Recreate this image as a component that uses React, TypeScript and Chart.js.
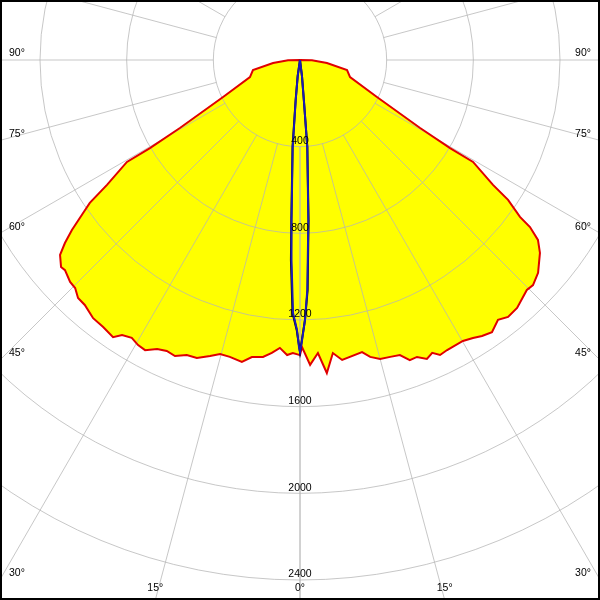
import { useEffect, useRef } from 'react';
import { Chart, registerables } from 'chart.js';

Chart.register(...registerables);

// ---- grid / tick definitions ----
const ringValues = [400, 800, 1200, 1600, 2000, 2400];
const ringLabelValues = [400, 800, 1200, 1600, 2000, 2400];
const angleTicks = [0, 15, 30, 45, 60, 75, 90, 105, 120, 135, 150, 165, 180];
const angleLabelTicks = [0, 15, 30, 45, 60, 75, 90];

// ---- C180 plane (left half of red curve), gamma in degrees, intensity in cd ----
const c180Gamma = [0, 1.4, 2.5, 4.0, 5.5, 7.1, 9.2, 10.9, 13.3, 15.2, 16.9, 19.1, 21.0, 22.9, 24.6, 26.3, 28.1, 29.6, 31.2, 32.9, 34.0, 36.4, 38.7, 41.3, 43.0, 44.6, 46.0, 48.2, 49.1, 50.9, 52.1, 53.3, 54.8, 55.8, 57.1, 59.5, 59.6, 60.5, 64.3, 71.2, 78.0, 83.7, 88.6, 90];
const c180Values = [1362, 1353, 1363, 1332, 1358, 1381, 1389, 1419, 1408, 1406, 1428, 1455, 1458, 1483, 1477, 1488, 1518, 1513, 1499, 1512, 1543, 1531, 1527, 1505, 1502, 1478, 1475, 1455, 1459, 1427, 1375, 1313, 1225, 1173, 1061, 927, 803, 637, 394, 244, 222, 125, 55, 0];

// ---- C0 plane (right half of red curve) ----
const c0Gamma = [0, 0.4, 1.9, 3.5, 4.9, 6.4, 8.0, 12.0, 13.3, 15.0, 16.9, 18.7, 20.1, 21.5, 23.0, 24.3, 25.4, 26.9, 30.1, 31.9, 33.4, 35.2, 37.3, 39.0, 41.2, 44.6, 46.0, 48.2, 51.2, 52.9, 54.0, 54.5, 56.1, 57.1, 59.5, 59.6, 60.5, 64.3, 71.2, 78.0, 83.7, 88.6, 90];
const c0Values = [1362, 1325, 1408, 1355, 1450, 1361, 1398, 1378, 1408, 1429, 1432, 1438, 1475, 1473, 1499, 1483, 1507, 1501, 1499, 1511, 1526, 1537, 1508, 1526, 1521, 1491, 1495, 1474, 1421, 1377, 1312, 1247, 1157, 1061, 927, 803, 637, 394, 244, 222, 125, 55, 0];

// ---- C270 / C90 plane (blue curve) ----
const c270Gamma = [0, 0.2, 0.64, 1.58, 2.43, 3.04, 4.8, 6.1, 8.2, 90];
const c270Values = [1348, 1325, 1246, 1168, 924, 739, 403, 186, 75, 0];
const c90Gamma = [0, 0.34, 1.1, 1.82, 2.97, 4.8, 5.5, 7.0, 90];
const c90Values = [1348, 1306, 1200, 1062, 742, 403, 186, 75, 0];

// ---- second narrow plane (black curve, mostly hidden under blue) ----
const blackLeftGamma = [0, 0.7, 1.7, 2.6, 3.1, 4.9, 6.2, 8.2, 90];
const blackLeftValues = [1348, 1246, 1168, 924, 739, 403, 186, 75, 0];
const blackRightGamma = [0, 1.1, 1.9, 3.05, 4.8, 5.5, 7.0, 90];
const blackRightValues = [1348, 1200, 1062, 742, 403, 186, 75, 0];

// ---- layout ----
const SIZE = 600;
const PX_PER_CD = 260 / 1200;
const ORIGIN_X = 300;
const ORIGIN_Y = 60;
const GRID_COLOR = 'rgba(180,180,180,0.75)';
const FONT = '10.5px "Liberation Sans", Arial, sans-serif';

function polarPoints(gammas: number[], values: number[], side: number) {
  return gammas.map((g, i) => {
    const a = (g * Math.PI) / 180;
    return { x: side * values[i] * Math.sin(a), y: -values[i] * Math.cos(a) };
  });
}

function planePath(lg: number[], lv: number[], rg: number[], rv: number[]) {
  const left = polarPoints(lg, lv, -1).reverse();
  const right = polarPoints(rg, rv, 1).slice(1);
  return [...left, ...right];
}

const FILL_INDEX = 2;

const polarGrid = {
  id: 'polarGrid',
  beforeDatasetDraw(chart: any, args: any) {
    if (args.index !== FILL_INDEX) return;
    const { ctx } = chart;
    const xs = chart.scales.x;
    const ys = chart.scales.y;
    const cx = xs.getPixelForValue(0);
    const cy = ys.getPixelForValue(0);
    const rad = (v: number) => xs.getPixelForValue(v) - cx;
    ctx.save();
    ctx.strokeStyle = GRID_COLOR;
    ctx.lineWidth = 1;
    for (const v of ringValues) {
      ctx.beginPath();
      ctx.arc(cx, cy, rad(v), 0, Math.PI * 2);
      ctx.stroke();
    }
    const r0 = rad(ringValues[0]);
    const r1 = rad(5000);
    for (const g of angleTicks) {
      for (const s of [-1, 1]) {
        const a = (g * Math.PI) / 180;
        ctx.beginPath();
        ctx.moveTo(cx + s * r0 * Math.sin(a), cy + r0 * Math.cos(a));
        ctx.lineTo(cx + s * r1 * Math.sin(a), cy + r1 * Math.cos(a));
        ctx.stroke();
      }
    }
    ctx.restore();
  },
  afterDatasetsDraw(chart: any) {
    const { ctx } = chart;
    const xs = chart.scales.x;
    const ys = chart.scales.y;
    const cx = xs.getPixelForValue(0);
    const cy = ys.getPixelForValue(0);
    const rad = (v: number) => xs.getPixelForValue(v) - cx;
    const W = chart.width;
    const H = chart.height;
    ctx.save();
    ctx.fillStyle = '#000';
    ctx.font = FONT;
    ctx.textBaseline = 'middle';
    // ring labels
    ctx.textAlign = 'center';
    for (const v of ringLabelValues) {
      ctx.fillText(String(v), cx, cy + rad(v) - 5.5);
    }
    // angle labels
    for (const g of angleLabelTicks) {
      const a = (g * Math.PI) / 180;
      const sides = g === 0 ? [1] : [-1, 1];
      for (const s of sides) {
        const sinA = Math.sin(a);
        const cosA = Math.cos(a);
        const tSide = sinA > 1e-6 ? (s < 0 ? cx : W - cx) / sinA : Infinity;
        const ySide = cy + tSide * cosA;
        if (ySide < H - 12) {
          ctx.textAlign = s < 0 ? 'left' : 'right';
          ctx.fillText(`${g}°`, s < 0 ? 9 : W - 9, ySide - 6.5);
        } else {
          const t = (H - cy) / cosA;
          ctx.textAlign = 'center';
          ctx.fillText(`${g}°`, cx + s * t * sinA, H - 11.5);
        }
      }
    }
    // frame
    ctx.strokeStyle = '#000';
    ctx.lineWidth = 2;
    ctx.strokeRect(1, 1, W - 2, H - 2);
    ctx.restore();
  },
};

export default function App() {
  const ref = useRef<HTMLCanvasElement | null>(null);
  useEffect(() => {
    document.body.style.margin = '0';
    const canvas = ref.current;
    if (!canvas) return;
    const redPath = planePath(c180Gamma, c180Values, c0Gamma, c0Values);
    const bluePath = planePath(c270Gamma, c270Values, c90Gamma, c90Values);
    const blackPath = planePath(blackLeftGamma, blackLeftValues, blackRightGamma, blackRightValues);
    const chart = new Chart(canvas, {
      type: 'scatter',
      data: {
        datasets: [
          {
            data: bluePath,
            showLine: true,
            borderColor: '#1a1ab8',
            borderWidth: 2,
            pointRadius: 0,
            fill: false,
            tension: 0,
          },
          {
            data: blackPath,
            showLine: true,
            borderColor: '#000000',
            borderWidth: 2,
            pointRadius: 0,
            fill: false,
            tension: 0,
          },
          {
            data: redPath,
            showLine: true,
            borderColor: '#e00000',
            backgroundColor: '#ffff00',
            borderWidth: 2,
            pointRadius: 0,
            fill: 'shape',
            tension: 0,
          },
        ],
      },
      options: {
        animation: false,
        responsive: false,
        devicePixelRatio: 1,
        layout: { padding: 0 },
        plugins: {
          legend: { display: false },
          tooltip: { enabled: false },
        },
        scales: {
          x: {
            type: 'linear',
            display: false,
            min: -ORIGIN_X / PX_PER_CD,
            max: (SIZE - ORIGIN_X) / PX_PER_CD,
          },
          y: {
            type: 'linear',
            display: false,
            min: -(SIZE - ORIGIN_Y) / PX_PER_CD,
            max: ORIGIN_Y / PX_PER_CD,
          },
        },
      } as any,
      plugins: [polarGrid as any],
    });
    return () => chart.destroy();
  }, []);
  return (
    <canvas
      ref={ref}
      width={SIZE}
      height={SIZE}
      style={{ display: 'block', width: SIZE, height: SIZE, background: '#fff' }}
    />
  );
}
